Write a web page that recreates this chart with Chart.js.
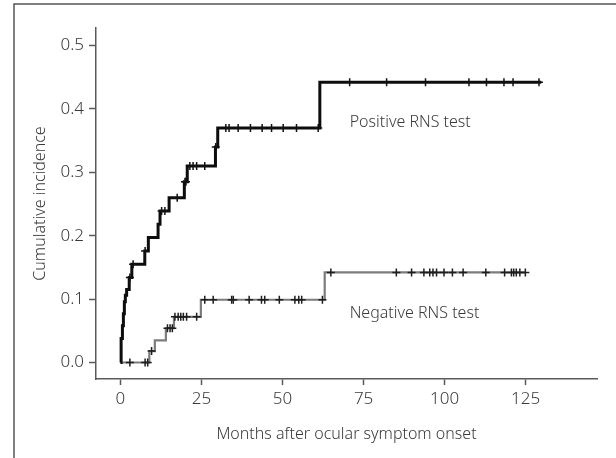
<!DOCTYPE html>
<html>
<head>
<meta charset="utf-8">
<title>Cumulative incidence</title>
<script src="https://cdn.jsdelivr.net/npm/chart.js@4.4.1/dist/chart.umd.min.js"></script>
<style>
  html, body { margin: 0; padding: 0; background: #fff; }
  canvas { display: block; }
</style>
</head>
<body>
<canvas id="incidenceChart" width="616" height="458"></canvas>
<script>
// Positive RNS test: event times (months) and cumulative incidence after each step
const posTimes = [0, 0.2, 0.6, 0.9, 1.2, 1.5, 1.9, 2.7, 3.5, 7.5, 8.6, 11.6, 12.2, 15.0, 19.7, 20.6, 29.3, 30.0, 61.5, 129.8];
const posRisk  = [0, 0.038, 0.058, 0.077, 0.096, 0.106, 0.115, 0.134, 0.155, 0.176, 0.197, 0.218, 0.239, 0.260, 0.285, 0.310, 0.340, 0.370, 0.442, 0.442];
// censored observations (months)
const posCensor = [2.9, 3.9, 7.6, 12.7, 13.7, 17.5, 19.9, 20.2, 21.4, 22.4, 23.5, 26.0, 29.4, 32.5, 33.5,
                   36.3, 40.1, 43.7, 46.6, 50.2, 54.3, 61.0, 70.7, 82.1, 94.1, 107.5, 112.9, 118.3, 121.1, 129.1];

// Negative RNS test
const negTimes = [0, 8.9, 10.6, 14.0, 16.5, 24.8, 63.0, 125.0];
const negRisk  = [0, 0.018, 0.035, 0.054, 0.072, 0.099, 0.142, 0.142];
const negCensor = [2.9, 7.6, 8.4, 9.6, 14.5, 15.3, 16.0, 16.8, 17.8, 18.6, 19.4, 20.4, 23.5, 26.0, 28.6,
                   34.3, 34.8, 39.7, 43.5, 44.5, 49.0, 53.8, 55.0, 55.9, 62.3, 64.9, 85.1, 89.8, 93.6,
                   95.4, 96.4, 97.5, 99.8, 102.4, 105.7, 112.7, 118.5, 120.6, 121.3, 122.1, 123.2, 124.9];

// tick labels
const xTicks = [0, 25, 50, 75, 100, 125];
const yTicks = [0.0, 0.1, 0.2, 0.3, 0.4, 0.5];

const textFont = '"Noto Sans", "Open Sans", sans-serif';
const textColor = '#3a3a3a';
const axisColor = '#5a5a5a';

// turns two arrays into {x, y} points
function toPoints(times, values) {
    return times.map((t, i) => ({ x: t, y: values[i] }));
}

// level of the step curve at a given time (for the censor crosses)
function levelAt(times, values, t) {
    let v = values[0];
    for (let i = 0; i < times.length; i++) {
        if (times[i] <= t) v = values[i];
    }
    return v;
}

function censorPoints(times, values, censor) {
    return censor.map(t => ({ x: t, y: levelAt(times, values, t) }));
}

// outer frame (left and top lines) + white background
const framePlugin = {
    id: 'frame',
    beforeDraw(chart) {
        const c = chart.ctx;
        c.save();
        c.fillStyle = '#fff';
        c.fillRect(0, 0, chart.width, chart.height);
        c.strokeStyle = '#555';
        c.lineWidth = 1.5;
        c.beginPath();
        c.moveTo(14, chart.height);
        c.lineTo(14, 4);
        c.lineTo(chart.width, 4);
        c.stroke();
        c.restore();
    }
};

// curve names written next to the lines
const curveLabels = {
    id: 'curveLabels',
    afterDatasetsDraw(chart) {
        const c = chart.ctx;
        const xs = chart.scales.x, ys = chart.scales.y;
        c.save();
        c.font = '300 16px ' + textFont;
        c.fillStyle = textColor;
        c.textBaseline = 'middle';
        c.fillText('Positive RNS test', xs.getPixelForValue(70.7), ys.getPixelForValue(0.378));
        c.fillText('Negative RNS test', xs.getPixelForValue(70.7), ys.getPixelForValue(0.078));
        c.restore();
    }
};

document.addEventListener('DOMContentLoaded', function() {
    const ctx = document.getElementById('incidenceChart').getContext('2d');

    new Chart(ctx, {
        type: 'scatter',
        data: {
            datasets: [
                {
                    label: 'Positive censored',
                    data: censorPoints(posTimes, posRisk, posCensor),
                    pointStyle: 'cross',
                    pointRadius: 4,
                    borderColor: '#111',
                    borderWidth: 1.5,
                    order: 0
                },
                {
                    label: 'Negative censored',
                    data: censorPoints(negTimes, negRisk, negCensor),
                    pointStyle: 'cross',
                    pointRadius: 4,
                    borderColor: '#1e1e1e',
                    borderWidth: 1.5,
                    order: 1
                },
                {
                    label: 'Positive RNS test',
                    data: toPoints(posTimes, posRisk),
                    showLine: true,
                    stepped: true,
                    borderColor: '#0d0d0d',
                    borderWidth: 3,
                    pointRadius: 0,
                    order: 2
                },
                {
                    label: 'Negative RNS test',
                    data: toPoints(negTimes, negRisk),
                    showLine: true,
                    stepped: true,
                    borderColor: '#7c7c7c',
                    borderWidth: 2.2,
                    pointRadius: 0,
                    order: 3
                }
            ]
        },
        options: {
            responsive: false,
            animation: false,
            layout: { padding: { left: 14, top: 28, right: 19, bottom: 0 } },
            plugins: {
                legend: { display: false },
                tooltip: { enabled: false }
            },
            scales: {
                x: {
                    type: 'linear',
                    min: -7.55,
                    max: 147,
                    afterFit: s => { s.height = 79; },
                    afterBuildTicks: s => { s.ticks = xTicks.map(v => ({ value: v })); },
                    grid: { drawOnChartArea: false, tickLength: 6, tickWidth: 1.5, tickColor: axisColor },
                    border: { color: axisColor, width: 1.5 },
                    ticks: {
                        color: textColor,
                        font: { family: textFont, size: 17, weight: 300 },
                        padding: 4,
                        maxRotation: 0
                    },
                    title: {
                        display: true,
                        text: 'Months after ocular symptom onset',
                        color: textColor,
                        font: { family: textFont, size: 16, weight: 300, lineHeight: 1.2 },
                        padding: { top: 0, bottom: 14 }
                    }
                },
                y: {
                    min: -0.026,
                    max: 0.5275,
                    afterFit: s => { s.width = 82; },
                    afterBuildTicks: s => { s.ticks = yTicks.map(v => ({ value: v })); },
                    grid: { drawOnChartArea: false, tickLength: 7, tickWidth: 1.5, tickColor: axisColor },
                    border: { color: axisColor, width: 1.5 },
                    ticks: {
                        color: textColor,
                        font: { family: textFont, size: 17, weight: 300 },
                        padding: 5,
                        callback: v => Number(v).toFixed(1)
                    },
                    title: {
                        display: true,
                        text: 'Cumulative incidence',
                        color: textColor,
                        font: { family: textFont, size: 16, weight: 300, lineHeight: 1.2 },
                        padding: { top: 17, bottom: 0 }
                    }
                }
            }
        },
        plugins: [framePlugin, curveLabels]
    });
});
</script>
</body>
</html>
